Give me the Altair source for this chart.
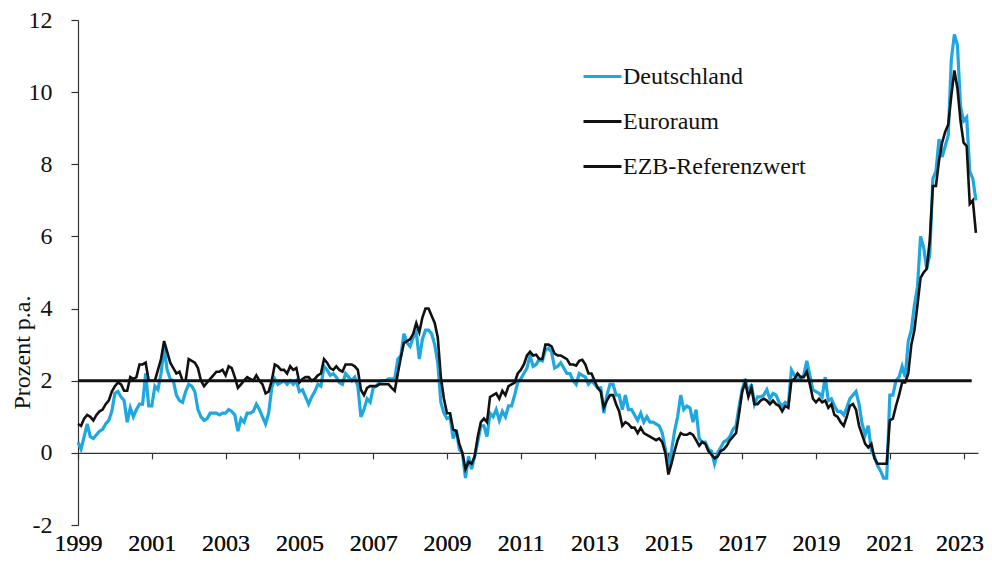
import altair as alt
import pandas as pd

# Monthly inflation rates (% p.a.), Jan 1999 - May 2023
de_vals = {
    1999: [0.3, 0.1, 0.45, 0.8, 0.45, 0.4, 0.5, 0.6, 0.65, 0.8, 0.9, 1.15],
    2000: [1.65, 1.7, 1.55, 1.45, 0.85, 1.25, 1.0, 1.2, 1.35, 1.35, 2.2, 1.3],
    2001: [1.3, 1.85, 1.75, 2.2, 2.9, 2.3, 2.05, 2.0, 1.6, 1.45, 1.4, 1.7],
    2002: [1.9, 1.85, 1.7, 1.2, 1.0, 0.9, 0.95, 1.1, 1.1, 1.1, 1.05, 1.1],
    2003: [1.1, 1.2, 1.15, 1.05, 0.6, 0.95, 0.85, 1.1, 1.1, 1.15, 1.35, 1.2],
    2004: [1.0, 0.8, 1.1, 1.8, 2.05, 1.9, 1.95, 2.0, 1.9, 2.0, 1.9, 2.0],
    2005: [1.7, 1.75, 1.55, 1.35, 1.55, 1.7, 1.9, 1.85, 2.4, 2.3, 2.15, 2.2],
    2006: [2.1, 1.95, 1.9, 2.2, 2.1, 2.0, 2.1, 1.85, 1.0, 1.2, 1.5, 1.4],
    2007: [1.8, 1.85, 1.95, 2.0, 2.0, 2.05, 2.05, 2.05, 2.6, 2.7, 3.3, 3.05],
    2008: [2.95, 3.2, 3.35, 2.6, 3.15, 3.4, 3.4, 3.3, 3.0, 2.5, 1.4, 1.1],
    2009: [0.95, 1.0, 0.4, 0.65, 0.1, 0.0, -0.7, -0.1, -0.45, -0.1, 0.3, 0.75],
    2010: [0.75, 0.45, 1.1, 1.0, 1.2, 0.9, 1.15, 1.0, 1.3, 1.3, 1.6, 1.95],
    2011: [2.05, 2.2, 2.35, 2.7, 2.4, 2.45, 2.6, 2.55, 2.85, 2.9, 2.8, 2.35],
    2012: [2.4, 2.5, 2.35, 2.2, 2.2, 2.0, 1.9, 2.2, 2.15, 2.1, 1.9, 2.0],
    2013: [1.9, 1.8, 1.8, 1.1, 1.6, 1.9, 1.9, 1.6, 1.6, 1.2, 1.6, 1.2],
    2014: [1.2, 1.05, 0.9, 1.1, 0.85, 1.0, 0.85, 0.85, 0.8, 0.75, 0.55, 0.1],
    2015: [-0.4, 0.05, 0.6, 1.0, 1.6, 1.2, 1.3, 1.25, 0.85, 1.2, 0.4, 0.3],
    2016: [0.3, 0.1, 0.05, -0.3, 0.0, 0.15, 0.3, 0.35, 0.45, 0.65, 0.75, 1.3],
    2017: [1.75, 2.05, 1.65, 1.9, 1.35, 1.55, 1.55, 1.6, 1.75, 1.5, 1.65, 1.6],
    2018: [1.4, 1.3, 1.4, 1.35, 2.3, 2.15, 2.05, 2.05, 2.15, 2.55, 2.15, 1.75],
    2019: [1.7, 1.65, 1.55, 2.1, 1.45, 1.5, 1.3, 1.15, 1.15, 1.05, 1.25, 1.5],
    2020: [1.6, 1.7, 1.35, 0.8, 0.5, 0.75, 0.05, -0.1, -0.35, -0.5, -0.7, -0.7],
    2021: [1.6, 1.6, 2.0, 2.1, 2.4, 2.1, 3.1, 3.4, 4.1, 4.6, 6.0, 5.7],
    2022: [5.1, 5.5, 7.6, 7.8, 8.7, 8.2, 8.5, 8.8, 10.9, 11.6, 11.3, 9.6],
    2023: [9.2, 9.3, 7.8, 7.6, 7.0],
}

eu_vals = {
    1999: [0.8, 0.75, 0.95, 1.05, 1.0, 0.9, 1.05, 1.15, 1.2, 1.35, 1.45, 1.7],
    2000: [1.85, 1.95, 1.9, 1.72, 1.72, 2.1, 2.05, 2.1, 2.45, 2.45, 2.5, 2.0],
    2001: [2.0, 2.0, 2.3, 2.6, 3.1, 2.8, 2.5, 2.35, 2.2, 2.25, 2.0, 2.0],
    2002: [2.6, 2.55, 2.5, 2.35, 2.0, 1.85, 1.95, 2.05, 2.15, 2.25, 2.25, 2.3],
    2003: [2.15, 2.4, 2.35, 2.1, 1.8, 1.9, 2.0, 2.1, 2.05, 2.0, 2.15, 2.0],
    2004: [1.9, 1.65, 1.7, 2.0, 2.45, 2.4, 2.3, 2.3, 2.2, 2.4, 2.3, 2.35],
    2005: [1.95, 2.05, 2.1, 2.1, 2.0, 2.05, 2.15, 2.2, 2.6, 2.5, 2.35, 2.3],
    2006: [2.4, 2.3, 2.25, 2.45, 2.45, 2.45, 2.4, 2.3, 1.75, 1.6, 1.8, 1.85],
    2007: [1.85, 1.85, 1.9, 1.9, 1.9, 1.9, 1.8, 1.72, 2.2, 2.65, 3.05, 3.1],
    2008: [3.15, 3.3, 3.6, 3.35, 3.75, 4.0, 4.0, 3.8, 3.6, 3.2, 2.1, 1.5],
    2009: [1.1, 1.1, 0.65, 0.6, 0.25, 0.0, -0.45, -0.25, -0.3, -0.1, 0.45, 0.85],
    2010: [0.95, 0.85, 1.55, 1.6, 1.65, 1.5, 1.72, 1.6, 1.85, 1.9, 1.95, 2.2],
    2011: [2.3, 2.45, 2.7, 2.8, 2.7, 2.72, 2.6, 2.6, 3.0, 3.0, 2.95, 2.75],
    2012: [2.7, 2.7, 2.65, 2.6, 2.45, 2.45, 2.42, 2.55, 2.58, 2.45, 2.2, 2.2],
    2013: [2.0, 1.8, 1.7, 1.25, 1.45, 1.6, 1.6, 1.35, 1.15, 0.75, 0.85, 0.8],
    2014: [0.7, 0.7, 0.55, 0.7, 0.55, 0.5, 0.45, 0.4, 0.35, 0.4, 0.3, 0.0],
    2015: [-0.6, -0.3, 0.05, 0.35, 0.55, 0.5, 0.5, 0.55, 0.5, 0.35, 0.2, 0.3],
    2016: [0.25, 0.05, -0.05, -0.15, -0.1, 0.05, 0.1, 0.2, 0.35, 0.45, 0.55, 1.1],
    2017: [1.7, 1.95, 1.55, 1.8, 1.35, 1.35, 1.45, 1.5, 1.45, 1.35, 1.45, 1.35],
    2018: [1.3, 1.15, 1.3, 1.25, 2.0, 2.05, 2.2, 2.1, 2.1, 2.25, 1.9, 1.5],
    2019: [1.4, 1.5, 1.4, 1.45, 1.25, 1.35, 1.05, 1.0, 0.85, 0.75, 1.0, 1.3],
    2020: [1.35, 1.2, 0.75, 0.5, 0.25, 0.15, 0.25, -0.15, -0.3, -0.3, -0.3, -0.3],
    2021: [0.9, 0.95, 1.3, 1.6, 1.95, 1.95, 2.2, 3.0, 3.4, 4.1, 4.85, 5.0],
    2022: [5.1, 5.9, 7.4, 7.4, 8.1, 8.6, 8.9, 9.1, 9.9, 10.6, 10.1, 9.2],
    2023: [8.6, 8.5, 6.9, 7.0, 6.1],
}

ref_t = [1999.0, 2023.22]
ref_vals = [2.0, 2.0]

series_names = ["Deutschland", "Euroraum", "EZB-Referenzwert"]
series_colors = ["#1FA7E0", "#111111", "#111111"]
tick_years = list(range(1999, 2024, 2))
y_ticks = [-2, 0, 2, 4, 6, 8, 10, 12]

FONT = "Liberation Serif"
FS = 24
TXT = "#111111"


def to_rows(vals, name):
    rows = []
    for yr, arr in vals.items():
        for i, v in enumerate(arr):
            rows.append({"t": yr + i / 12.0, "value": v, "series": name})
    return rows


df_de = pd.DataFrame(to_rows(de_vals, "Deutschland"))
df_eu = pd.DataFrame(to_rows(eu_vals, "Euroraum"))
df_ref = pd.DataFrame({"t": ref_t, "value": ref_vals, "series": "EZB-Referenzwert"})

x_scale = alt.Scale(domain=[1999, 2023.39], nice=False, zero=False)
y_scale = alt.Scale(domain=[-2, 12], nice=False, zero=False)
color_scale = alt.Scale(domain=series_names, range=series_colors)

legend = alt.Legend(
    title=None, orient="none", legendX=504, legendY=36,
    symbolType="stroke", symbolSize=1444, symbolStrokeWidth=3,
    labelFont=FONT, labelFontSize=FS, labelColor=TXT, labelLimit=0,
    rowPadding=12, labelOffset=0, padding=0,
)

x_labels_axis = alt.Axis(
    values=tick_years, format="d", domain=False, ticks=False, grid=False,
    title=None, labelFont=FONT, labelFontSize=FS, labelColor=TXT,
    labelPadding=25, labelBaseline="alphabetic", orient="bottom",
    labelFlush=False,
    labelOffset={"condition": {"test": "datum.value == 2023", "value": -4}, "value": 0},
)
x_zero_axis = alt.Axis(
    values=tick_years, labels=False, domain=True, ticks=True, grid=False,
    title=None, tickSize=6, tickWidth=1.2, domainWidth=1.2,
    domainColor="#333333", tickColor="#333333", orient="bottom",
    offset=-72.14,
)
y_axis = alt.Axis(
    values=y_ticks, labelExpr="'' + datum.value", grid=False,
    domainColor="#333333", tickColor="#333333", domainWidth=1.2, tickWidth=1.2,
    tickSize=7, labelPadding=19, labelFont=FONT, labelFontSize=FS,
    labelColor=TXT,
    title="Prozent p.a.", titleFont=FONT, titleFontSize=FS,
    titleFontWeight="normal", titleColor=TXT,
    titleX=-56, titleY=332, titleAngle=-90, titleAlign="center",
    titleBaseline="middle",
)

color_enc = alt.Color("series:N", scale=color_scale, legend=legend)

de_line = alt.Chart(df_de).mark_line(strokeWidth=3.2).encode(
    x=alt.X("t:Q", scale=x_scale, axis=x_labels_axis),
    y=alt.Y("value:Q", scale=y_scale, axis=y_axis),
    color=color_enc,
)
eu_line = alt.Chart(df_eu).mark_line(strokeWidth=2.6).encode(
    x=alt.X("t:Q", scale=x_scale, axis=x_labels_axis),
    y=alt.Y("value:Q", scale=y_scale, axis=y_axis),
    color=color_enc,
)
ref_line = alt.Chart(df_ref).mark_line(strokeWidth=3).encode(
    x=alt.X("t:Q", scale=x_scale, axis=x_zero_axis),
    y=alt.Y("value:Q", scale=y_scale, axis=y_axis),
    color=color_enc,
)

chart = (
    alt.layer(de_line, eu_line, ref_line)
    .resolve_axis(x="independent")
    .properties(
        width=900, height=505,
        autosize=alt.AutoSizeParams(type="none"),
        padding={"left": 70, "top": 12, "right": 6, "bottom": 30},
        background="white",
    )
    .configure_view(stroke=None)
)

chart.save("out.html", embed_options={"renderer": "svg", "actions": False})
